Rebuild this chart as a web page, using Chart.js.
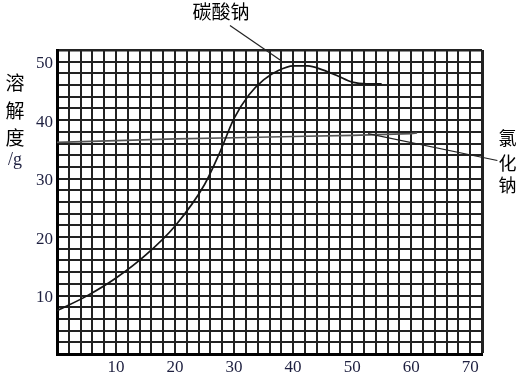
<!DOCTYPE html>
<html><head><meta charset="utf-8">
<script src="https://cdn.jsdelivr.net/npm/chart.js@4/dist/chart.umd.min.js"></script>
<style>html,body{margin:0;padding:0;background:#fff}#wrap{width:519px;height:377px}</style>
</head><body><div id="wrap"><canvas id="c" width="519" height="377"></canvas></div>
<script>
// ---- data ----
const carbonateTemps = [0, 5, 10, 15, 20, 25, 27.5, 30, 32.5, 35, 37.5, 40, 42.5, 45, 47.5, 50, 52.5, 55];
const sodiumCarbonate = [7.4, 9.9, 13.0, 16.9, 21.9, 29.0, 34.3, 40.3, 44.3, 46.9, 48.5, 49.3, 49.3, 48.6, 47.6, 46.5, 46.2, 46.2];
const chlorideTemps = [0, 10, 20, 30, 40, 50, 60, 61];
const sodiumChloride = [36.2, 36.5, 36.8, 37.0, 37.2, 37.4, 37.7, 37.8];
const xTickLabels = [10, 20, 30, 40, 50, 60, 70];
const yTickLabels = [10, 20, 30, 40, 50];
const seriesNames = ['碳酸钠', '氯化钠'];
const yTitleParts = ['溶', '解', '度', '/g'];

const X_MAX = 72, Y_MAX = 52;
const LABEL_COLOR = '#1e2040';
const CJK = '"Noto Sans CJK SC", "Noto Sans", sans-serif';

const annotations = {
  id: 'annotations',
  afterDraw(chart) {
    const ctx = chart.ctx, xs = chart.scales.x, ys = chart.scales.y;
    const px = v => xs.getPixelForValue(v), py = v => ys.getPixelForValue(v);
    ctx.save();
    // leader lines
    ctx.strokeStyle = '#222';
    ctx.lineWidth = 1.2;
    ctx.beginPath();
    ctx.moveTo(px(29.3), py(56.2));
    ctx.lineTo(px(37.8), py(50.3));
    ctx.stroke();
    ctx.beginPath();
    ctx.moveTo(px(52.7), py(37.7));
    ctx.lineTo(px(74.6), py(33.1));
    ctx.stroke();
    // series labels
    ctx.fillStyle = '#000';
    ctx.font = '19px ' + CJK;
    ctx.textAlign = 'center';
    ctx.textBaseline = 'middle';
    ctx.fillText(seriesNames[0], px(27.8), py(58.5));
    ctx.font = '18px ' + CJK;
    const chars = Array.from(seriesNames[1]);
    const ny = [37.0, 32.7, 28.8];
    chars.forEach((ch, i) => ctx.fillText(ch, px(76.3), py(ny[i])));
    // y title, stacked vertically
    ctx.font = '19px ' + CJK;
    const ty = [83, 111, 138];
    for (let i = 0; i < 3; i++) ctx.fillText(yTitleParts[i], 15, ty[i]);
    ctx.fillStyle = LABEL_COLOR;
    ctx.font = '18px "Liberation Serif", serif';
    ctx.fillText(yTitleParts[3], 15, 160);
    ctx.restore();
  }
};

new Chart(document.getElementById('c'), {
  type: 'line',
  data: {
    datasets: [
      {
        label: seriesNames[0],
        data: carbonateTemps.map((t, i) => ({ x: t, y: sodiumCarbonate[i] })),
        borderColor: '#151515', borderWidth: 1.7, pointRadius: 0,
        cubicInterpolationMode: 'monotone', fill: false
      },
      {
        label: seriesNames[1],
        data: chlorideTemps.map((t, i) => ({ x: t, y: sodiumChloride[i] })),
        borderColor: '#555', borderWidth: 1.6, pointRadius: 0, tension: 0, fill: false
      }
    ]
  },
  options: {
    responsive: false, animation: false, devicePixelRatio: 1,
    layout: { padding: { left: 0, top: 50, right: 37, bottom: 0 } },
    plugins: { legend: { display: false }, tooltip: { enabled: false }, title: { display: false } },
    scales: {
      x: {
        type: 'linear', min: 0, max: X_MAX,
        afterFit: s => { s.height = 23; },
        ticks: {
          stepSize: 2, autoSkip: false, maxRotation: 0, padding: 3,
          color: LABEL_COLOR, font: { family: '"Liberation Serif", serif', size: 17 },
          callback: v => xTickLabels.includes(v) ? String(v) : ''
        },
        grid: { color: '#222', lineWidth: c => (c.tick && c.tick.value === X_MAX) ? 3 : 2, drawTicks: false },
        border: { color: '#000', width: 3 }
      },
      y: {
        type: 'linear', min: 0, max: Y_MAX,
        afterFit: s => { s.width = 57; },
        ticks: {
          stepSize: 2, autoSkip: false, padding: 4, labelOffset: 2,
          color: LABEL_COLOR, font: { family: '"Liberation Serif", serif', size: 17 },
          callback: v => yTickLabels.includes(v) ? String(v) : ''
        },
        grid: { color: '#222', lineWidth: c => (c.tick && c.tick.value === Y_MAX) ? 2.5 : 2, drawTicks: false },
        border: { color: '#000', width: 3 }
      }
    }
  },
  plugins: [annotations]
});
</script></body></html>
